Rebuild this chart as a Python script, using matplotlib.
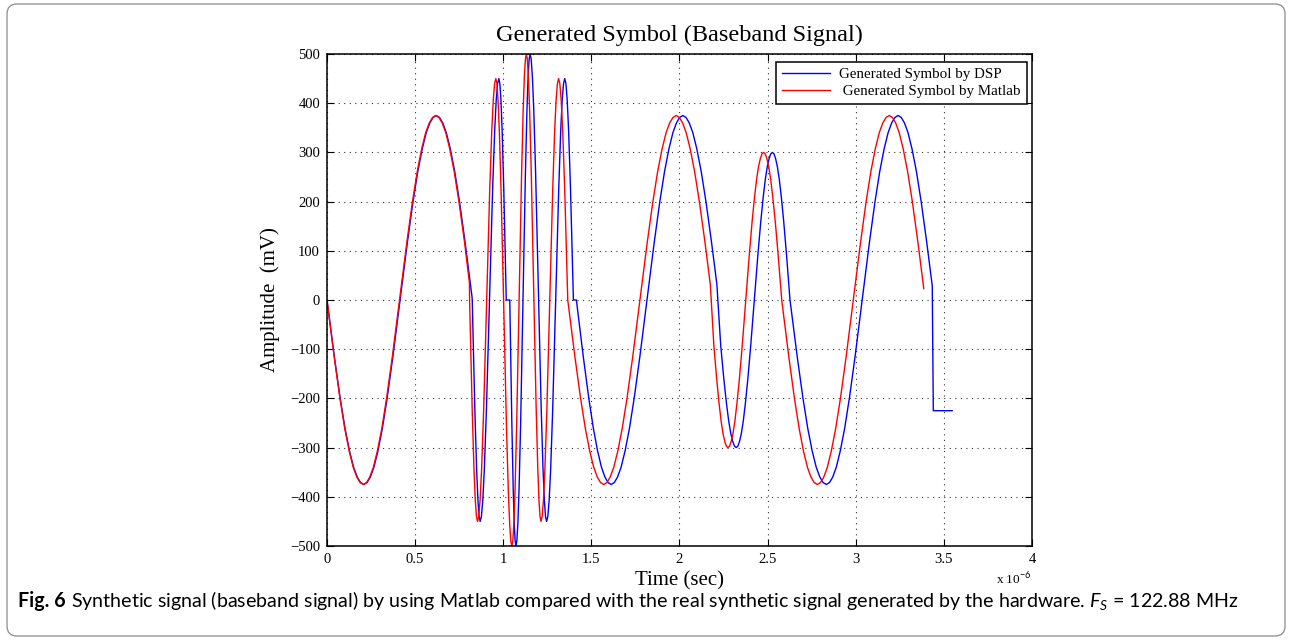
import matplotlib
matplotlib.use("Agg")
import matplotlib.pyplot as plt
from matplotlib.patches import FancyBboxPatch
from matplotlib.lines import Line2D

# ---------------- data (time in microseconds, amplitude in mV) ----------------
t_matlab = [
    0.000, 0.0412, 0.0733, 0.1007, 0.1259, 0.1488, 0.1694, 0.1877, 0.206,
    0.2243, 0.2425, 0.2631, 0.2859, 0.3111, 0.3384, 0.3704, 0.4115,
    0.4526, 0.4846, 0.5120, 0.5371, 0.5599, 0.5805, 0.5988, 0.617,
    0.6352, 0.6534, 0.6740, 0.6967, 0.7218, 0.7491, 0.781, 0.808,
    0.809, 0.824, 0.834, 0.8415, 0.848, 0.854,
    0.8609, 0.8684, 0.8771, 0.8887, 0.906, 0.9233, 0.9349, 0.9436, 0.9511, 0.958,
    0.9641, 0.9706, 0.9782, 0.9883, 1.0035, 1.0187, 1.0288, 1.0364, 1.0429, 1.049,
    1.0545, 1.0604, 1.0672, 1.0763, 1.090, 1.1037, 1.1128, 1.1196, 1.1255, 1.131,
    1.1365, 1.1425, 1.1494, 1.1587, 1.1725, 1.1863, 1.1956, 1.2025, 1.2085, 1.214,
    1.2207, 1.2279, 1.2362, 1.2473, 1.264, 1.2807, 1.2918, 1.3001, 1.3073, 1.314,
    1.3209, 1.3284, 1.3371, 1.3487, 1.366,
    1.4068, 1.4385, 1.4657, 1.4907, 1.5133, 1.5337, 1.5519, 1.570,
    1.5883, 1.6065, 1.6271, 1.6499, 1.6751, 1.7024, 1.7344, 1.7755,
    1.8166, 1.8486, 1.8760, 1.9011, 1.9239, 1.9445, 1.9628, 1.981,
    1.9992, 2.0175, 2.0380, 2.0607, 2.0858, 2.1131, 2.145, 2.175,
    2.195, 2.2106, 2.2239, 2.2361, 2.2472, 2.2572, 2.2661, 2.275,
    2.2840, 2.2930, 2.3031, 2.3143, 2.3266, 2.3401, 2.3558, 2.376,
    2.3962, 2.4119, 2.4254, 2.4377, 2.4489, 2.4590, 2.4680, 2.477,
    2.4862, 2.4953, 2.5056, 2.5171, 2.5296, 2.5434, 2.5594, 2.580,
    2.6204, 2.6518, 2.6788, 2.7034, 2.7259, 2.7461, 2.7640, 2.782,
    2.8001, 2.8183, 2.8387, 2.8613, 2.8863, 2.9135, 2.9452, 2.986,
    3.0268, 3.0585, 3.0857, 3.1107, 3.1333, 3.1537, 3.1719, 3.190,
    3.2081, 3.2263, 3.2467, 3.2693, 3.2943, 3.3215, 3.3532, 3.386,
]
v_matlab = [
    0, -116, -199, -261, -307, -340, -360, -371, -375,
    -371, -360, -340, -307, -261, -199, -116, 0,
    116, 199, 261, 307, 340, 360, 371, 375,
    371, 360, 340, 307, 261, 199, 116, 35,
    0, -225, -345, -408, -440, -450,
    -440, -408, -345, -225, 0, 225, 345, 408, 440, 450,
    440, 405, 339, 213, -25, -263, -389, -455, -490, -500,
    -489, -453, -383, -250, 0, 250, 383, 453, 489, 500,
    490, 455, 389, 263, 25, -213, -339, -405, -440, -450,
    -440, -408, -345, -225, 0, 225, 345, 408, 440, 450,
    440, 408, 345, 225, 0,
    -116, -199, -261, -307, -340, -360, -371, -375,
    -371, -360, -340, -307, -261, -199, -116, 0,
    116, 199, 261, 307, 340, 360, 371, 375,
    371, 360, 340, 307, 261, 199, 116, 31,
    -93, -159, -208, -246, -272, -288, -297, -300,
    -297, -288, -272, -246, -208, -159, -93, 0,
    93, 159, 208, 246, 272, 288, 297, 300,
    297, 288, 272, 246, 208, 159, 93, 0,
    -116, -199, -261, -307, -340, -360, -371, -375,
    -371, -360, -340, -307, -261, -199, -116, 0,
    116, 199, 261, 307, 340, 360, 371, 375,
    371, 360, 340, 307, 261, 199, 116, 23,
]

t_dsp = [
    0.000, 0.0418, 0.0743, 0.1022, 0.1277, 0.1509, 0.1718, 0.1904, 0.209,
    0.2273, 0.2455, 0.2661, 0.2889, 0.3141, 0.3414, 0.3734, 0.4145,
    0.4556, 0.4876, 0.5150, 0.5401, 0.5629, 0.5835, 0.6018, 0.620,
    0.6382, 0.6565, 0.6770, 0.6997, 0.7248, 0.7521, 0.784, 0.823,
    0.824, 0.839, 0.849, 0.8565, 0.863, 0.869,
    0.8761, 0.8837, 0.8926, 0.9043, 0.922, 0.9397, 0.9515, 0.9603, 0.9679, 0.975,
    0.9806, 0.9867, 0.9937, 1.003, 1.017, 1.037,
    1.0487, 1.0564, 1.0623, 1.0673, 1.072,
    1.0773, 1.0831, 1.0898, 1.0987, 1.112, 1.1253, 1.1342, 1.1409, 1.1467, 1.152,
    1.1583, 1.1651, 1.1729, 1.1833, 1.199, 1.2147, 1.2251, 1.2329, 1.2397, 1.246,
    1.2529, 1.2603, 1.2689, 1.2803, 1.2975, 1.3147, 1.3261, 1.3347, 1.3421, 1.349,
    1.3555, 1.3626, 1.3708, 1.3817, 1.398, 1.415,
    1.4544, 1.4851, 1.5113, 1.5354, 1.5573, 1.5770, 1.5945, 1.612,
    1.6301, 1.6482, 1.6685, 1.6911, 1.7160, 1.7431, 1.7748, 1.8155,
    1.8562, 1.8879, 1.9150, 1.9399, 1.9625, 1.9828, 2.0009, 2.019,
    2.0371, 2.0553, 2.0757, 2.0983, 2.1233, 2.1505, 2.1822, 2.212,
    2.234, 2.2511, 2.2658, 2.2792, 2.2914, 2.3024, 2.3122, 2.322,
    2.3311, 2.3402, 2.3505, 2.3619, 2.3744, 2.3881, 2.404, 2.4245,
    2.445, 2.4610, 2.4746, 2.4872, 2.4985, 2.5088, 2.5179, 2.527,
    2.5359, 2.5448, 2.5548, 2.5659, 2.5781, 2.5914, 2.607, 2.627,
    2.6682, 2.7003, 2.7277, 2.7529, 2.7758, 2.7964, 2.8147, 2.833,
    2.8511, 2.8692, 2.8895, 2.9121, 2.9370, 2.9641, 2.9958, 3.0365,
    3.0772, 3.1089, 3.1360, 3.1609, 3.1835, 3.2038, 3.2219, 3.240,
    3.2581, 3.2763, 3.2967, 3.3193, 3.3443, 3.3715, 3.4032, 3.434,
    3.440, 3.547,
]
v_dsp = [
    0, -116, -199, -261, -307, -340, -360, -371, -375,
    -371, -360, -340, -307, -261, -199, -116, 0,
    116, 199, 261, 307, 340, 360, 371, 375,
    371, 360, 340, 307, 261, 199, 116, 6,
    0, -225, -345, -408, -440, -450,
    -440, -408, -345, -225, 0, 225, 345, 408, 440, 450,
    440, 408, 345, 225, 0, 0,
    -250, -383, -453, -489, -500,
    -489, -453, -383, -250, 0, 250, 383, 453, 489, 500,
    490, 455, 389, 263, 25, -213, -339, -405, -440, -450,
    -440, -408, -345, -225, 0, 225, 345, 408, 440, 450,
    440, 408, 345, 225, 0, 0,
    -116, -199, -261, -307, -340, -360, -371, -375,
    -371, -360, -340, -307, -261, -199, -116, 0,
    116, 199, 261, 307, 340, 360, 371, 375,
    371, 360, 340, 307, 261, 199, 116, 32,
    -93, -159, -208, -246, -272, -288, -297, -300,
    -297, -288, -272, -246, -208, -159, -93, 0,
    93, 159, 208, 246, 272, 288, 297, 300,
    297, 288, 272, 246, 208, 159, 93, 0,
    -116, -199, -261, -307, -340, -360, -371, -375,
    -371, -360, -340, -307, -261, -199, -116, 0,
    116, 199, 261, 307, 340, 360, 371, 375,
    371, 360, 340, 307, 261, 199, 116, 29,
    -225, -225,
]

x_ticks = [0, 0.5, 1, 1.5, 2, 2.5, 3, 3.5, 4]
x_tick_labels = ["0", "0.5", "1", "1.5", "2", "2.5", "3", "3.5", "4"]
y_ticks = [-500, -400, -300, -200, -100, 0, 100, 200, 300, 400, 500]
y_tick_labels = ["\u2212500", "\u2212400", "\u2212300", "\u2212200", "\u2212100",
                 "0", "100", "200", "300", "400", "500"]

title_text = "Generated Symbol (Baseband Signal)"
xlabel_text = "Time (sec)"
ylabel_text = "Amplitude  (mV)"
legend_labels = ["Generated Symbol by DSP", " Generated Symbol by Matlab"]
caption_bold = "Fig. 6"
caption_rest = (" Synthetic signal (baseband signal) by using Matlab compared with the real "
                "synthetic signal generated by the hardware. $F_S$ = 122.88 MHz")

# ---------------- figure ----------------
W, H = 1292, 641
fig = plt.figure(figsize=(W / 100, H / 100), dpi=100)
serif = "Liberation Serif"
plt.rcParams["mathtext.fontset"] = "custom"
plt.rcParams["mathtext.it"] = "Lato:italic"
plt.rcParams["mathtext.rm"] = "Lato"

# outer rounded frame
frame = FancyBboxPatch((0.07, 0.05), 12.78, 6.32,
                       boxstyle="round,pad=0,rounding_size=0.1",
                       transform=fig.dpi_scale_trans, fill=False,
                       edgecolor="#8a8a8a", linewidth=0.9)
fig.patches.append(frame)

ax = fig.add_axes([327 / W, 1 - 546 / H, (1032 - 327) / W, (546 - 54) / H])
ax.plot(t_dsp, v_dsp, color="#0000ff", linewidth=1.0)
ax.plot(t_matlab, v_matlab, color="#ff0000", linewidth=1.0)

ax.set_xlim(0, 4)
ax.set_ylim(-500, 500)
ax.set_xticks(x_ticks)
ax.set_xticklabels(x_tick_labels, fontfamily=serif, fontsize=10.5)
ax.set_yticks(y_ticks)
ax.set_yticklabels(y_tick_labels, fontfamily=serif, fontsize=10.5)
ax.tick_params(direction="in", top=True, right=True, length=5, width=0.8, pad=5)
ax.grid(True, linestyle=(0, (1, 4)), color="#333333", linewidth=0.8)
for s in ax.spines.values():
    s.set_linewidth(1.1)
    s.set_color("black")

ax.set_title(title_text, fontfamily=serif, fontsize=17.5, pad=9)
ax.set_xlabel(xlabel_text, fontfamily=serif, fontsize=15, labelpad=4)
ax.set_ylabel(ylabel_text, fontfamily=serif, fontsize=15, labelpad=7)
ax.text(1.0, -0.052, r"x 10$^{-6}$", transform=ax.transAxes, ha="right", va="top",
        fontfamily=serif, fontsize=9.5)

handles = [Line2D([], [], color="#0000ff", linewidth=1.0),
           Line2D([], [], color="#ff0000", linewidth=1.0)]
leg = ax.legend(handles, legend_labels, loc="upper right",
                bbox_to_anchor=(0.9929, 0.984), borderaxespad=0,
                prop={"family": serif, "size": 10.8}, frameon=True, fancybox=False,
                framealpha=1, edgecolor="black", handlelength=3.2, handletextpad=0.6,
                borderpad=0.4, labelspacing=0.2)
leg.get_frame().set_linewidth(1.1)

# caption
cap_y = 1 - 601 / H
t1 = fig.text(18 / W, cap_y, caption_bold, fontfamily="Lato", fontweight="bold",
              fontsize=14.1, va="center", ha="left")
fig.canvas.draw()
bb = t1.get_window_extent(renderer=fig.canvas.get_renderer())
fig.text(bb.x1 / W, cap_y, caption_rest, fontfamily="Lato", fontsize=14.1,
         va="center", ha="left")

fig.savefig("out.png", dpi=100)
